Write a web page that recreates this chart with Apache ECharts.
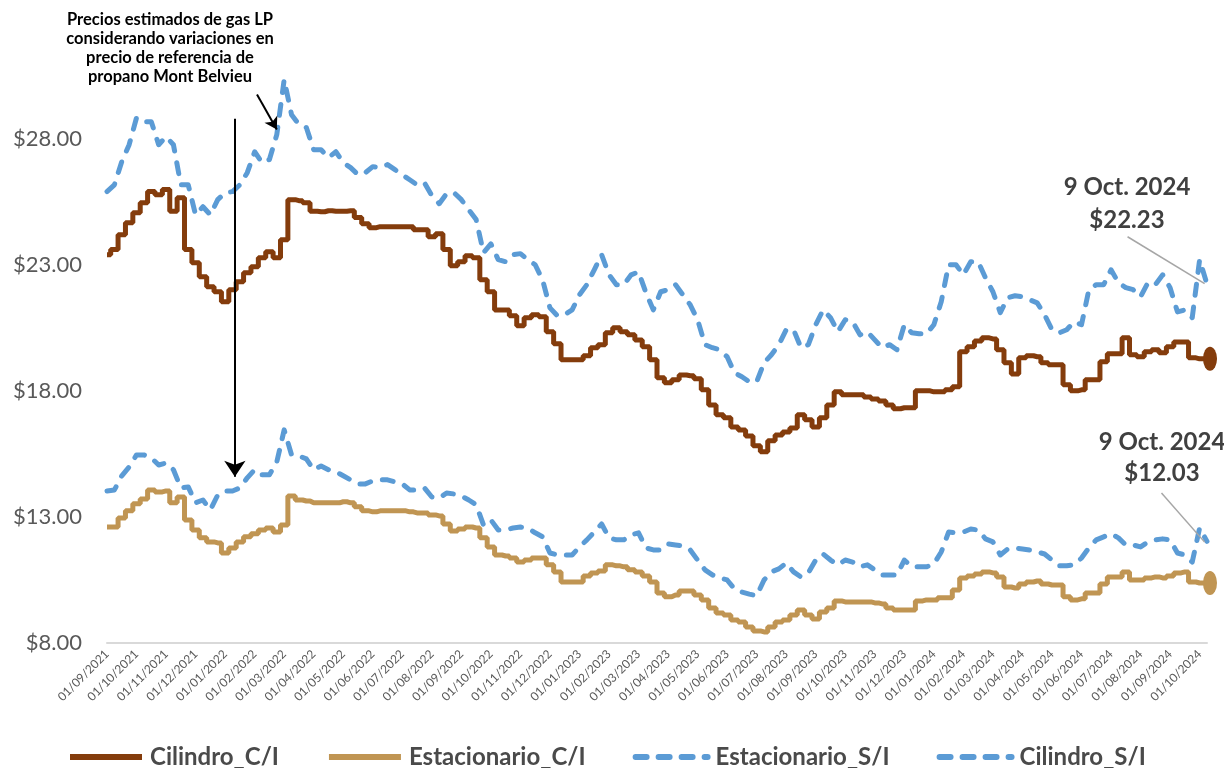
<!DOCTYPE html>
<html>
<head>
<meta charset="utf-8">
<script src="https://cdn.jsdelivr.net/npm/echarts@6/dist/echarts.min.js"></script>
<style>
html,body{margin:0;padding:0;background:#fff;}
#chart{width:1224px;height:768px;}
</style>
</head>
<body>
<div id="chart"></div>
<script>
// Month tick labels (x axis), one per month
const tickLabels = [
  '01/09/2021','01/10/2021','01/11/2021','01/12/2021',
  '01/01/2022','01/02/2022','01/03/2022','01/04/2022','01/05/2022','01/06/2022',
  '01/07/2022','01/08/2022','01/09/2022','01/10/2022','01/11/2022','01/12/2022',
  '01/01/2023','01/02/2023','01/03/2023','01/04/2023','01/05/2023','01/06/2023',
  '01/07/2023','01/08/2023','01/09/2023','01/10/2023','01/11/2023','01/12/2023',
  '01/01/2024','01/02/2024','01/03/2024','01/04/2024','01/05/2024','01/06/2024',
  '01/07/2024','01/08/2024','01/09/2024','01/10/2024'
];
// Samples are taken every quarter month from 01/09/2021 to 9 Oct 2024
const SAMPLES_PER_MONTH = 4;

const cilindroCI = [
 23.40,23.60,24.19,24.67,25.06,25.46,25.90,25.78,25.98,25.12,
 25.66,23.60,23.08,22.52,22.13,21.93,21.53,22.01,22.33,22.68,
 22.92,23.28,23.52,23.28,23.99,25.58,25.54,25.46,25.12,25.10,
 25.14,25.12,25.12,25.14,24.87,24.63,24.47,24.51,24.51,24.51,
 24.51,24.51,24.39,24.39,24.11,24.23,23.60,22.96,23.12,23.36,
 23.28,22.40,21.93,21.21,21.21,20.98,20.58,20.90,21.02,20.94,
 20.34,19.87,19.23,19.23,19.23,19.39,19.71,19.83,20.30,20.50,
 20.34,20.22,20.02,19.75,19.23,18.52,18.32,18.44,18.63,18.60,
 18.48,18.04,17.44,17.05,16.93,16.57,16.45,16.21,15.82,15.58,
 16.02,16.25,16.37,16.53,17.05,16.85,16.57,16.93,17.44,17.96,
 17.84,17.84,17.84,17.76,17.68,17.60,17.44,17.29,17.33,17.33,
 18.00,18.00,17.96,17.96,18.04,18.16,19.55,19.75,19.98,20.10,
 20.06,19.63,19.11,18.67,19.31,19.39,19.35,19.11,19.03,19.03,
 18.24,18.00,18.04,18.44,18.44,19.15,19.47,19.47,20.10,19.43,
 19.35,19.55,19.63,19.51,19.75,19.94,19.94,19.31,19.27,19.27
];
const estacionarioCI = [
 12.60,12.60,12.96,13.24,13.52,13.71,14.07,13.99,14.03,13.56,
 13.79,12.88,12.48,12.17,12.01,11.97,11.57,11.77,12.01,12.21,
 12.33,12.48,12.56,12.40,12.68,13.83,13.67,13.63,13.56,13.56,
 13.56,13.56,13.60,13.56,13.40,13.24,13.20,13.24,13.24,13.24,
 13.24,13.20,13.16,13.16,13.08,13.04,12.72,12.44,12.52,12.60,
 12.56,12.17,11.81,11.49,11.45,11.37,11.21,11.29,11.37,11.37,
 11.10,10.82,10.42,10.42,10.42,10.66,10.78,10.86,11.10,11.06,
 11.02,10.90,10.82,10.66,10.42,9.98,9.83,9.90,10.06,10.06,
 9.90,9.71,9.39,9.19,9.11,8.91,8.83,8.63,8.48,8.44,
 8.63,8.83,8.91,9.11,9.31,9.11,8.95,9.23,9.39,9.67,
 9.63,9.63,9.63,9.63,9.59,9.55,9.39,9.31,9.31,9.31,
 9.67,9.71,9.71,9.79,9.79,10.10,10.58,10.66,10.74,10.82,
 10.78,10.62,10.22,10.18,10.34,10.42,10.46,10.34,10.30,10.30,
 9.83,9.71,9.75,9.98,9.98,10.34,10.62,10.62,10.82,10.50,
 10.50,10.58,10.62,10.58,10.66,10.78,10.82,10.42,10.38,10.38
];
const estacionarioSI = [
 14.03,14.07,14.63,14.98,15.46,15.46,15.34,15.06,15.14,14.87,
 14.15,14.19,13.56,13.67,13.28,13.87,14.03,14.03,14.15,14.55,
 14.87,14.67,14.67,15.18,16.45,15.46,15.42,15.30,14.87,15.02,
 14.87,14.79,14.63,14.47,14.31,14.31,14.43,14.47,14.47,14.39,
 14.31,14.07,14.07,14.15,13.79,13.75,13.95,13.91,13.83,13.67,
 13.48,12.68,12.88,12.48,12.48,12.56,12.60,12.56,12.37,12.21,
 11.57,11.49,11.49,11.49,11.81,12.09,12.40,12.72,12.17,12.09,
 12.09,12.29,12.37,11.77,11.69,11.69,11.93,11.89,11.85,11.69,
 11.29,10.90,10.70,10.58,10.50,10.14,10.02,9.94,9.87,10.50,
 10.82,10.94,11.17,10.82,10.62,10.78,11.29,11.53,11.29,11.10,
 11.29,11.21,11.02,11.10,10.90,10.70,10.70,10.70,11.29,11.02,
 11.02,11.02,11.13,11.61,12.40,12.37,12.40,12.52,12.48,12.13,
 12.01,11.49,11.73,11.77,11.73,11.69,11.61,11.53,11.29,11.06,
 11.06,11.10,11.37,11.77,12.09,12.21,12.33,12.17,11.89,11.89,
 11.81,12.01,12.09,12.13,12.09,11.57,11.49,11.21,12.56,12.03
];
const cilindroSI = [
 25.90,26.17,27.09,27.76,28.83,28.67,28.67,27.76,28.08,27.76,
 26.17,26.17,24.98,25.30,24.98,25.58,25.86,25.90,26.17,26.65,
 27.48,27.05,27.17,28.16,30.34,28.95,28.56,28.44,27.56,27.56,
 27.25,27.48,27.05,26.85,26.57,26.65,26.89,26.85,26.97,26.77,
 26.57,26.37,26.17,26.25,25.74,25.42,25.82,25.86,25.58,25.18,
 24.79,23.48,23.83,23.20,23.12,23.40,23.44,23.20,23.00,22.40,
 21.29,20.98,21.02,21.21,21.81,22.21,22.80,23.40,22.60,22.21,
 22.21,22.60,22.72,21.89,21.21,21.93,22.01,22.21,21.81,21.41,
 20.82,19.83,19.71,19.63,19.35,18.71,18.56,18.36,18.36,19.11,
 19.43,19.83,20.42,20.42,19.71,19.83,20.62,21.21,20.90,20.34,
 20.82,20.74,20.22,20.34,20.02,19.71,19.83,19.63,20.62,20.30,
 20.26,20.26,20.62,21.53,23.00,23.00,22.60,23.12,23.12,22.48,
 21.93,21.10,21.69,21.77,21.73,21.61,21.49,21.02,20.42,20.30,
 20.42,20.74,20.62,22.01,22.21,22.21,22.80,22.29,22.09,22.01,
 21.73,22.29,22.21,22.60,22.09,21.13,21.21,20.90,23.20,22.23
];
const yTicks = [8, 13, 18, 23, 28];

// Annotation anchors in data units (month offset, price)
const arrowDown = [[4.33, 28.79], [4.33, 14.59]];
const arrowDiag = [[5.08, 29.75], [5.75, 28.36]];
const leaderTop = [[34.56, 24.11], [37.17, 22.25]];
const leaderBottom = [[35.71, 13.95], [37.17, 12.0]];

const toPairs = arr => arr.map((v, i) => [i / SAMPLES_PER_MONTH, v]);
const lastT = (cilindroCI.length - 1) / SAMPLES_PER_MONTH;

const FONT = 'Lato, "Open Sans", sans-serif';
const BROWN = '#843C0C', TAN = '#C09553', BLUE = '#5B9BD5';

const chart = echarts.init(document.getElementById('chart'), null, {renderer: 'canvas'});
const dashed = {width: 5, type: [11, 12], cap: 'round', join: 'round'};

chart.setOption({
  animation: false,
  backgroundColor: '#ffffff',
  grid: {left: 107, right: 17, top: 63, bottom: 125},
  xAxis: {
    type: 'value', min: 0, max: lastT, interval: 1,
    axisLine: {show: true, lineStyle: {color: '#D9D9D9', width: 2}},
    axisTick: {show: false},
    splitLine: {show: false},
    axisLabel: {
      rotate: 45, margin: 9, fontSize: 12, color: '#595959', fontFamily: FONT,
      showMaxLabel: false,
      formatter: v => (Number.isInteger(v) && tickLabels[v]) ? tickLabels[v] : ''
    }
  },
  yAxis: {
    type: 'value', min: 8, max: 31, interval: 5,
    axisLine: {show: false}, axisTick: {show: false}, splitLine: {show: false},
    axisLabel: {
      margin: 25, fontSize: 22, color: '#595959', fontFamily: FONT,
      showMaxLabel: false,
      formatter: v => yTicks.includes(v) ? '$' + v.toFixed(2) : ''
    }
  },
  legend: {
    left: 62, top: 739, itemWidth: 72, itemHeight: 6, itemGap: 47,
    lineStyle: {width: 6},
    itemStyle: {opacity: 0},
    textStyle: {fontFamily: FONT, fontWeight: 'bold', fontSize: 24, color: '#4a4a4a', lineHeight: 26, padding: [0, 0, 0, 3]},
    data: ['Cilindro_C/I', 'Estacionario_C/I', 'Estacionario_S/I', 'Cilindro_S/I']
  },
  graphic: [
    {type: 'text', x: 170, y: 10, z: 100,
     style: {text: 'Precios estimados de gas LP\nconsiderando variaciones en\nprecio de referencia de\npropano Mont Belvieu',
             font: 'bold 16.5px ' + FONT, fill: '#000', align: 'center', lineHeight: 19}},
    {type: 'text', x: 1127, y: 171, z: 100,
     style: {text: '9 Oct. 2024\n$22.23', font: 'bold 24px ' + FONT, fill: '#404040', align: 'center', lineHeight: 33}},
    {type: 'text', x: 1162, y: 427, z: 100,
     style: {text: '9 Oct. 2024\n$12.03', font: 'bold 24px ' + FONT, fill: '#404040', align: 'center', lineHeight: 31}}
  ],
  series: [
    {name: 'Cilindro_S/I', type: 'line', data: toPairs(cilindroSI), symbol: 'none', showSymbol: false,
     lineStyle: Object.assign({color: BLUE}, dashed), itemStyle: {color: BLUE}, z: 2},
    {name: 'Estacionario_S/I', type: 'line', data: toPairs(estacionarioSI), symbol: 'none', showSymbol: false,
     lineStyle: Object.assign({color: BLUE}, dashed), itemStyle: {color: BLUE}, z: 2},
    {name: 'Estacionario_C/I', type: 'line', step: 'middle', data: toPairs(estacionarioCI), symbol: 'none', showSymbol: false,
     lineStyle: {color: TAN, width: 5}, itemStyle: {color: TAN}, z: 3,
     markPoint: {silent: true, symbol: 'circle', symbolSize: [14, 24], symbolOffset: [3, 0], itemStyle: {color: TAN, opacity: 1}, label: {show: false},
       data: [{coord: [lastT, estacionarioCI[estacionarioCI.length - 1]]}]}},
    {name: 'Cilindro_C/I', type: 'line', step: 'middle', data: toPairs(cilindroCI), symbol: 'none', showSymbol: false,
     lineStyle: {color: BROWN, width: 5}, itemStyle: {color: BROWN}, z: 3,
     markPoint: {silent: true, symbol: 'circle', symbolSize: [14, 24], symbolOffset: [3, 0], itemStyle: {color: BROWN, opacity: 1}, label: {show: false},
       data: [{coord: [lastT, cilindroCI[cilindroCI.length - 1]]}]},
     markLine: {silent: true, animation: false, label: {show: false}, emphasis: {disabled: true},
       symbol: ['none', 'arrow'],
       data: [
         [{coord: arrowDown[0], lineStyle: {color: '#000', width: 2, type: 'solid'}},
          {coord: arrowDown[1], symbol: 'arrow', symbolSize: [16, 16]}],
         [{coord: arrowDiag[0], lineStyle: {color: '#000', width: 2, type: 'solid'}},
          {coord: arrowDiag[1], symbol: 'arrow', symbolSize: [11, 12]}],
         [{coord: leaderTop[0], symbol: 'none', lineStyle: {color: '#A6A6A6', width: 1.5, type: 'solid'}},
          {coord: leaderTop[1], symbol: 'none'}],
         [{coord: leaderBottom[0], symbol: 'none', lineStyle: {color: '#A6A6A6', width: 1.5, type: 'solid'}},
          {coord: leaderBottom[1], symbol: 'none'}]
       ]}}
  ]
});
</script>
</body>
</html>
